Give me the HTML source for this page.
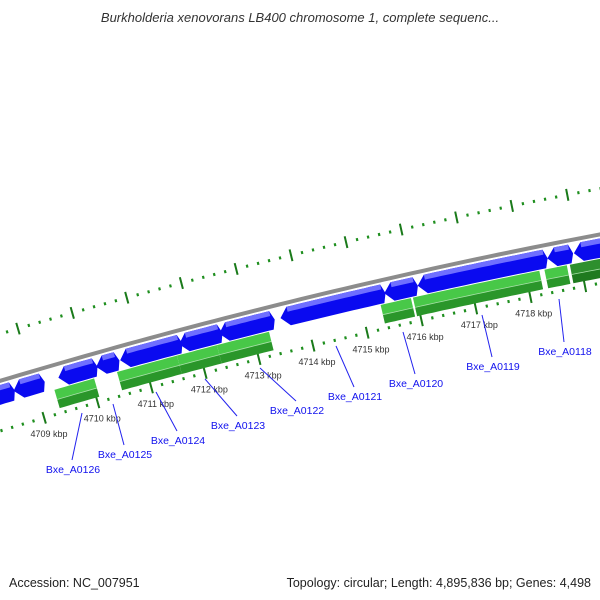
<!DOCTYPE html>
<html><head><meta charset="utf-8"><style>
html,body{margin:0;padding:0;background:#fff;}
svg{display:block;font-family:"Liberation Sans",sans-serif;}
</style></head><body>
<svg id="map" width="600" height="600" viewBox="0 0 600 600" xmlns="http://www.w3.org/2000/svg">
<text x="300" y="22" text-anchor="middle" font-size="13" font-style="italic" fill="#333">Burkholderia xenovorans LB400 chromosome 1, complete sequenc...</text>
<g id="rings"></g>
<g id="genes"></g>
<g id="labels"></g>
<text x="9" y="587" font-size="12.5" fill="#222">Accession: NC_007951</text>
<text x="591" y="587" text-anchor="end" font-size="12.5" fill="#222">Topology: circular; Length: 4,895,836 bp; Genes: 4,498</text>
</svg>
<script>
const fwdStarts=[4708000,4708612,4709445,4710148,4710592,4711683,4712423,4713552,4715457,4716068,4718436,4718917];
const fwdEnds  =[4708575,4709130,4710111,4710518,4711683,4712423,4713385,4715420,4716012,4718380,4718843,4719900];
const revStarts=[4709316,4710481,4711591,4712331,4715347,4715939,4718344,4718806];
const revEnds  =[4710056,4711591,4712331,4713293,4715902,4718251,4718751,4719731];
const kbpTicks=[4709,4710,4711,4712,4713,4714,4715,4716,4717,4718];
const geneNames=["Bxe_A0126","Bxe_A0125","Bxe_A0124","Bxe_A0123","Bxe_A0122","Bxe_A0121","Bxe_A0120","Bxe_A0119","Bxe_A0118"];
const geneLabelX=[73,125,178,238,297,355,416,493,565];
const geneLabelY=[469,454,440,425,410,396,383,366,351];
const geneLineFrom=[[82,413],[113,404],[156,392],[205,379],[260,368],[336,346],[403,332],[482,315],[559,299]];

const NS="http://www.w3.org/2000/svg";
const Cx=1710,Cy=6083;
const phi0=Math.atan2(400-Cy,97-Cx);
const k=55.7/5907000;
function pt(p,r){const a=phi0+(p-4710000)*k;return [Cx+r*Math.cos(a),Cy+r*Math.sin(a)];}
function mk(tag,attrs,parent){const e=document.createElementNS(NS,tag);for(const a in attrs)e.setAttribute(a,attrs[a]);parent.appendChild(e);return e;}
function band(p1,p2,r1,r2){let pts=[];const n=Math.max(2,Math.ceil((p2-p1)/100));for(let i=0;i<=n;i++)pts.push(pt(p1+(p2-p1)*i/n,r2));for(let i=n;i>=0;i--)pts.push(pt(p1+(p2-p1)*i/n,r1));return pts.map(q=>q[0].toFixed(1)+","+q[1].toFixed(1)).join(" ");}
const rings=document.getElementById('rings');
let bb=[];for(let p=4707000;p<=4722000;p+=200)bb.push(pt(p,5953));
const back=mk('polyline',{points:bb.map(q=>q.join(",")).join(" "),fill:"none",stroke:"#8c8c8c","stroke-width":4},rings);


[5905,5998].forEach((R,ri)=>{
  for(let p=4707000;p<=4721000;p+=200){
    const major=(p%1000===0);
    const a=pt(p,R-(major?6:1.5)),b=pt(p,R+(major?6:1.5));
    const t=mk('line',{x1:a[0],y1:a[1],x2:b[0],y2:b[1],stroke:major?"#1a7a1a":"#1f8f1f","stroke-width":major?2:2.2},rings);
    
    
  }
});
kbpTicks.forEach(v=>{
  const q=pt(v*1000,5888);
  const t=mk('text',{x:q[0],y:q[1]+3,"text-anchor":"middle","font-size":9,fill:"#333"},rings);
  t.textContent=v+" kbp";
  
  
});
const genes=document.getElementById('genes');
fwdStarts.forEach((s,i)=>{
  const e=fwdEnds[i];
  const tip=Math.min(150,(e-s)*0.4);
  const r1=5930,r2=5949,rm=5939.5;
  let pts=[];const b=s+tip,n=Math.max(2,Math.ceil((e-b)/100));
  pts.push(pt(s,rm));
  for(let j=0;j<=n;j++)pts.push(pt(b+(e-b)*j/n,r2));
  pts.push(pt(e+60,rm));
  for(let j=n;j>=0;j--)pts.push(pt(b+(e-b)*j/n,r1));
  const g=mk('polygon',{points:pts.map(q=>q[0].toFixed(1)+","+q[1].toFixed(1)).join(" "),fill:"#0a0af0"},genes);
  
  
  const h=mk('polygon',{points:band(b,e,5944,5949),fill:"#6f6fff"},genes);
  
  
});
revStarts.forEach((s,i)=>{
  const e=revEnds[i];
  const dark=(i===revStarts.length-1);
  const g=mk('polygon',{points:band(s,e,5910,5919),fill:dark?"#1f7a1f":"#2a962a"},genes);
  
  
  const t=mk('polygon',{points:band(s,e,5919,5929),fill:dark?"#2e8f2e":"#48c848"},genes);
  
  
  let ln=[];for(let p=s;p<=e;p+=100)ln.push(pt(p,5919));ln.push(pt(e,5919));
  const l=mk('polyline',{points:ln.map(q=>q.join(",")).join(" "),fill:"none",stroke:"#a8e0a8","stroke-width":0.8},genes);
  
  
});
const labels=document.getElementById('labels');
geneNames.forEach((nm,i)=>{
  const f=geneLineFrom[i];
  const l=mk('line',{x1:f[0],y1:f[1],x2:geneLabelX[i]-1,y2:geneLabelY[i]-9,stroke:"#2222ee","stroke-width":1},labels);
  
  
  const t=mk('text',{x:geneLabelX[i],y:geneLabelY[i]+4,"text-anchor":"middle","font-size":10.5,fill:"#1111ee"},labels);
  t.textContent=nm;
  
  
});
</script>
</body></html>
